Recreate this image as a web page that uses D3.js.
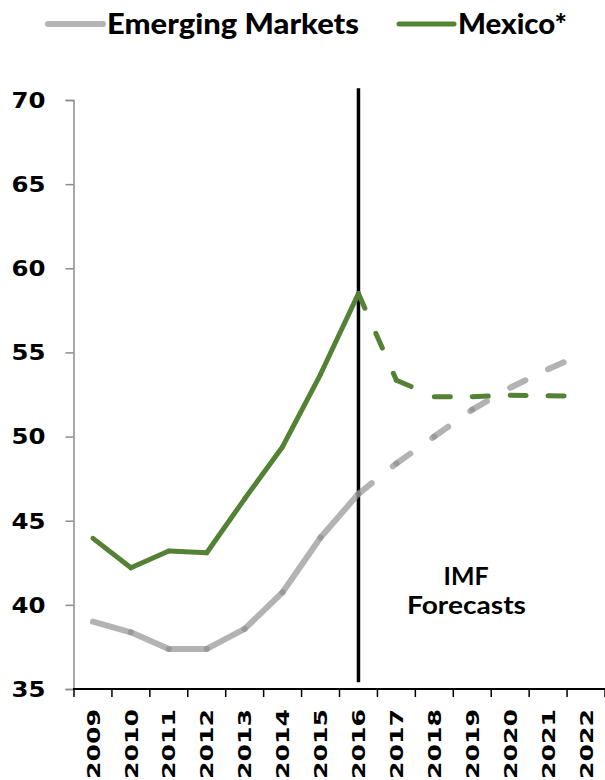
<!DOCTYPE html>
<html>
<head>
<meta charset="utf-8">
<script src="https://cdn.jsdelivr.net/npm/d3@7"></script>
<style>
  html, body { margin: 0; padding: 0; background: #fff; }
  svg { display: block; }
</style>
</head>
<body>
<svg id="chart" width="605" height="780"></svg>
<script>
// Years on the horizontal axis
const years = ["2009","2010","2011","2012","2013","2014","2015","2016","2017","2018","2019","2020","2021","2022"];
// Series values (actuals through 2016, IMF forecasts afterwards)
const emergingMarkets = [39.0, 38.37, 37.38, 37.38, 38.57, 40.75, 44.0, 46.6, 48.4, 50.0, 51.6, 52.9, 54.0, 55.0];
const mexico = [43.95, 42.2, 43.2, 43.1, 46.3, 49.4, 53.7, 58.5, 53.35, 52.37, 52.37, 52.45, 52.42, 52.4];
// Y axis ticks
const yTicks = [35, 40, 45, 50, 55, 60, 65, 70];
// Last year of actual data; the forecast divider sits on it
const lastActualYear = "2016";
const dividerTop = 70.7, dividerBottom = 35.4;

const svg = d3.select("#chart");
const num = "'DejaVu Sans', Verdana, sans-serif";
const txt = "Lato, 'Open Sans', sans-serif";

const x = d3.scaleBand().domain(years).range([74, 605]).paddingInner(0).paddingOuter(0);
const y = d3.scaleLinear().domain([35, 70]).range([689, 100]);
const cx = yr => x(yr) + x.bandwidth() / 2;

const series = [
  { name: "Emerging Markets", values: emergingMarkets, color: "#8c8c8c", opacity: 0.66, width: 6, dash: "17,27" },
  { name: "Mexico*", values: mexico, color: "#548235", opacity: 1, width: 5, dash: "16,27.5" }
];

// Y axis
const yAxis = d3.axisLeft(y).tickValues(yTicks).tickSize(8).tickPadding(20).tickFormat(d3.format("d"));
const gy = svg.append("g").attr("transform", "translate(73.5,0)").call(yAxis);
gy.select(".domain").attr("stroke", "#8c8c8c").attr("stroke-width", 1.5);
gy.selectAll(".tick line").attr("stroke", "#8c8c8c").attr("stroke-width", 1.5);
gy.selectAll(".tick text")
  .attr("font-family", num).attr("font-weight", "bold").attr("font-size", 20.5)
  .attr("fill", "#000").attr("dy", "0.36em")
  .attr("textLength", 34).attr("lengthAdjust", "spacingAndGlyphs");

// X axis: labels centred in each year band, ticks on band boundaries
const xAxis = d3.axisBottom(x).tickSize(0).tickPadding(0);
const gx = svg.append("g").attr("transform", "translate(0,689)").call(xAxis);
gx.select(".domain").remove();
gx.selectAll(".tick text")
  .attr("font-family", num).attr("font-weight", "bold").attr("font-size", 18.5)
  .attr("fill", "#000")
  .attr("transform", "rotate(-90)")
  .attr("text-anchor", "end")
  .attr("x", -20).attr("y", 0).attr("dy", "0.36em")
  .attr("textLength", 70).attr("lengthAdjust", "spacingAndGlyphs");

const boundaries = years.map(yr => x(yr)).concat([x.range()[1]]);
svg.append("line")
  .attr("x1", 73).attr("x2", x.range()[1])
  .attr("y1", y(35)).attr("y2", y(35))
  .attr("stroke", "#000").attr("stroke-width", 2);
svg.append("g").selectAll("line").data(boundaries).join("line")
  .attr("x1", d => d).attr("x2", d => d)
  .attr("y1", y(35)).attr("y2", y(35) + 8)
  .attr("stroke", "#000").attr("stroke-width", 1.5);

// Divider between actuals and forecasts
svg.append("line")
  .attr("x1", cx(lastActualYear)).attr("x2", cx(lastActualYear))
  .attr("y1", y(dividerTop)).attr("y2", y(dividerBottom))
  .attr("stroke", "#000").attr("stroke-width", 3.5);

// Series, segment by segment: solid for actuals, dashed for forecasts
const lastIdx = years.indexOf(lastActualYear);
const line = d3.line().x(d => cx(d.year)).y(d => y(d.value));
series.forEach(s => {
  const pts = years.map((yr, i) => ({ year: yr, value: s.values[i] }));
  const segs = d3.pairs(pts);
  svg.append("g").selectAll("path").data(segs).join("path")
    .attr("d", d => line(d))
    .attr("fill", "none")
    .attr("stroke", s.color)
    .attr("stroke-opacity", s.opacity)
    .attr("stroke-width", s.width)
    .attr("stroke-linecap", "round")
    .attr("stroke-linejoin", "round")
    .attr("stroke-dasharray", (d, i) => i >= lastIdx ? s.dash : null);
});

// Legend
const legend = [
  { s: series[0], x0: 48, x1: 103, tx: 107, len: 252 },
  { s: series[1], x0: 399, x1: 454, tx: 458, len: 109 }
];
const lg = svg.append("g");
legend.forEach(l => {
  lg.append("line")
    .attr("x1", l.x0).attr("x2", l.x1).attr("y1", 24).attr("y2", 24)
    .attr("stroke", l.s.color).attr("stroke-opacity", l.s.opacity)
    .attr("stroke-width", l.s.width).attr("stroke-linecap", "round");
  lg.append("text")
    .attr("x", l.tx).attr("y", 34)
    .attr("font-family", txt).attr("font-weight", 900).attr("font-size", 29)
    .attr("fill", "#000")
    .attr("textLength", l.len).attr("lengthAdjust", "spacingAndGlyphs")
    .text(l.s.name);
});

// Forecast annotation
const note = svg.append("g").attr("font-family", txt).attr("font-weight", "bold")
  .attr("font-size", 24).attr("fill", "#000").attr("text-anchor", "middle");
note.append("text").attr("x", 466).attr("y", 585)
  .attr("textLength", 45).attr("lengthAdjust", "spacingAndGlyphs").text("IMF");
note.append("text").attr("x", 466.5).attr("y", 614)
  .attr("textLength", 119).attr("lengthAdjust", "spacingAndGlyphs").text("Forecasts");
</script>
</body>
</html>
